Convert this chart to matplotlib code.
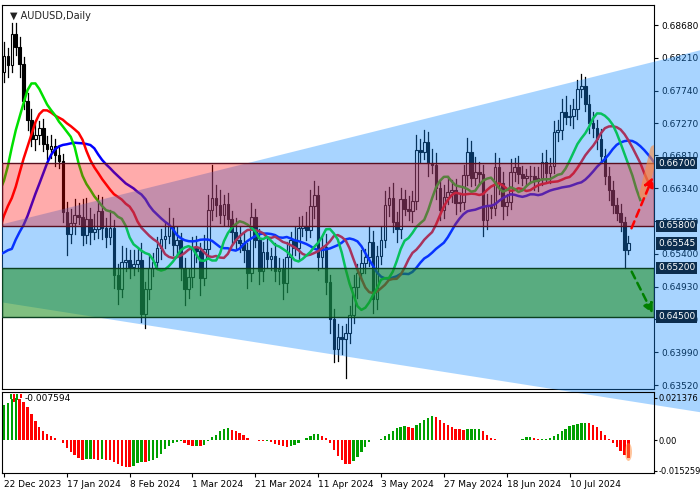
import numpy as np
import pandas as pd
import matplotlib
matplotlib.use("Agg")
import matplotlib.pyplot as plt
from matplotlib.patches import Rectangle, Polygon, Ellipse
import matplotlib.transforms as mtransforms

# ---------------- data ----------------
# closes before the visible window (only used to warm up indicators)
pre_close = [0.6340, 0.6335, 0.6325, 0.6310, 0.6330, 0.6345, 0.6350, 0.6400, 0.6510, 0.6450,
             0.6430, 0.6395, 0.6375, 0.6380, 0.6400, 0.6500, 0.6530, 0.6540, 0.6545, 0.6570,
             0.6565, 0.6580, 0.6590, 0.6610, 0.6635, 0.6660, 0.6650, 0.6665, 0.6625, 0.6585,
             0.6565, 0.6575, 0.6575, 0.6585, 0.6570, 0.6720, 0.6705, 0.6700, 0.6750, 0.6800]

close = [0.6823, 0.6810, 0.6855, 0.6837, 0.6812, 0.6759, 0.6732, 0.6705, 0.6710, 0.6720,
         0.6697, 0.6690, 0.6695, 0.6682, 0.6673, 0.6600, 0.6568, 0.6584, 0.6595, 0.6593,
         0.6567, 0.6590, 0.6572, 0.6575, 0.6601, 0.6577, 0.6564, 0.6577, 0.6509, 0.6490,
         0.6529, 0.6531, 0.6521, 0.6526, 0.6531, 0.6454, 0.6490, 0.6520, 0.6529, 0.6548,
         0.6561, 0.6565, 0.6580, 0.6552, 0.6560, 0.6520, 0.6489, 0.6507, 0.6548, 0.6544,
         0.6505, 0.6547, 0.6603, 0.6620, 0.6610, 0.6596, 0.6611, 0.6590, 0.6572, 0.6560,
         0.6556, 0.6545, 0.6513, 0.6593, 0.6560, 0.6515, 0.6543, 0.6533, 0.6537, 0.6515,
         0.6518, 0.6498, 0.6535, 0.6560, 0.6548, 0.6577, 0.6580, 0.6574, 0.6608, 0.6625,
         0.6535, 0.6550, 0.6499, 0.6447, 0.6403, 0.6421, 0.6418, 0.6426, 0.6453, 0.6493,
         0.6512, 0.6527, 0.6535, 0.6557, 0.6475, 0.6537, 0.6560, 0.6610, 0.6620, 0.6586,
         0.6575, 0.6619, 0.6605, 0.6602, 0.6616, 0.6689, 0.6686, 0.6700, 0.6670, 0.6668,
         0.6634, 0.6603, 0.6621, 0.6629, 0.6632, 0.6613, 0.6615, 0.6653, 0.6686, 0.6649,
         0.6657, 0.6655, 0.6588, 0.6608, 0.6606, 0.6664, 0.6642, 0.6608, 0.6614, 0.6658,
         0.6664, 0.6654, 0.6649, 0.6651, 0.6652, 0.6644, 0.6649, 0.6671, 0.6656, 0.6666,
         0.6714, 0.6718, 0.6744, 0.6736, 0.6737, 0.6748, 0.6777, 0.6780, 0.6755, 0.6727,
         0.6720, 0.6705, 0.6680, 0.6652, 0.6631, 0.6610, 0.6599, 0.6585, 0.6546, 0.6556]

# wick sizes in pips above max(open, close) and below min(open, close)
wick_up = [20, 12, 16, 16, 14, 10, 12, 15, 18, 10, 14, 12, 16, 10, 12, 10, 14, 20, 24, 18,
           26, 30, 16, 22, 24, 20, 14, 26, 12, 16, 22, 18, 14, 20, 16, 24, 10, 18, 12, 16,
           14, 20, 26, 12, 18, 10, 14, 12, 16, 18, 12, 20, 22, 48, 18, 22, 14, 16, 12, 20,
           18, 14, 10, 20, 12, 16, 14, 20, 12, 18, 16, 14, 22, 12, 18, 16, 14, 20, 24, 20,
           12, 16, 18, 10, 14, 18, 16, 14, 12, 16, 14, 18, 12, 22, 16, 14, 18, 20, 16, 22,
           14, 16, 12, 18, 14, 22, 16, 18, 14, 20, 16, 12, 18, 22, 14, 16, 12, 14, 20, 16,
           22, 14, 12, 18, 16, 20, 14, 16, 12, 18, 14, 16, 12, 10, 14, 12, 16, 14, 18, 12,
           16, 14, 18, 22, 16, 14, 12, 18, 14, 12, 16, 12, 14, 10, 12, 14, 10, 12, 8, 10]
wick_dn = [14, 16, 10, 12, 18, 12, 14, 10, 16, 12, 10, 14, 12, 16, 10, 14, 30, 12, 16, 10,
           14, 12, 18, 10, 12, 16, 14, 10, 18, 22, 12, 14, 16, 12, 10, 11, 20, 14, 12, 10,
           16, 12, 10, 14, 12, 18, 22, 12, 14, 16, 24, 10, 12, 14, 16, 12, 14, 10, 18, 12,
           14, 16, 22, 12, 10, 18, 14, 12, 16, 14, 18, 22, 12, 14, 10, 16, 12, 14, 10, 16,
           18, 14, 16, 20, 18, 16, 22, 56, 14, 12, 16, 10, 14, 12, 20, 14, 12, 10, 16, 14,
           18, 12, 10, 14, 16, 12, 14, 10, 18, 12, 16, 14, 12, 10, 14, 16, 12, 10, 14, 12,
           10, 16, 22, 12, 14, 10, 16, 18, 12, 10, 14, 12, 10, 12, 10, 12, 14, 10, 12, 14,
           10, 12, 14, 10, 12, 16, 14, 12, 10, 14, 12, 14, 10, 12, 14, 12, 10, 12, 26, 6]

date_labels = ["22 Dec 2023", "17 Jan 2024", "8 Feb 2024", "1 Mar 2024", "21 Mar 2024",
               "11 Apr 2024", "3 May 2024", "27 May 2024", "18 Jun 2024", "10 Jul 2024"]
label_step = 16

price_ticks = [0.68680, 0.68210, 0.67740, 0.67270, 0.66810, 0.66340, 0.65870,
               0.65400, 0.64930, 0.64460, 0.63990, 0.63520]
levels = {"resist_top": 0.6670, "resist_bot": 0.6580, "support_top": 0.6520, "support_bot": 0.6450}
boxed = [0.66700, 0.65800, 0.65545, 0.65200, 0.64500]
osc_ticks = [0.021376, 0.0, -0.015259]
ao_label = "-0.007594"
channel_upper = [(0, 0.6583), (166, 0.6816)]
channel_lower = [(0, 0.6470), (166, 0.6323)]

# ---------------- computations ----------------
n_pre = len(pre_close)
c = np.array(close)
o = np.concatenate([[pre_close[-1]], c[:-1]])
h = np.maximum(o, c) + np.array(wick_up) * 1e-4
l = np.minimum(o, c) - np.array(wick_dn) * 1e-4

med = pd.Series(np.concatenate([pre_close, (h + l) / 2]))
idx_all = np.arange(len(med)) - n_pre

def smma(s, n):
    return s.ewm(alpha=1.0 / n, adjust=False).mean()

jaw = smma(med, 13); teeth = smma(med, 8); lips = smma(med, 5)
ao = (med.rolling(5, min_periods=1).mean() - med.rolling(34, min_periods=1).mean()).values

# ---------------- figure ----------------
fig = plt.figure(figsize=(7, 5), dpi=100)
ax = fig.add_axes([2 / 700, 111 / 500, 652 / 700, 384 / 500])
axo = fig.add_axes([2 / 700, 27 / 500, 652 / 700, 81 / 500])
axo.set_facecolor("none")

x = np.arange(len(c))
xl = (-0.5, 165.5)

# candles
for i in x:
    ax.plot([i, i], [l[i], h[i]], color="black", lw=0.9, zorder=2)
    bull = c[i] >= o[i]
    lo_b = min(o[i], c[i]); hgt = max(abs(c[i] - o[i]), 0.00005)
    ax.add_patch(Rectangle((i - 0.33, lo_b), 0.66, hgt, facecolor="white" if bull else "black",
                           edgecolor="black", lw=0.8, zorder=3))

# alligator (shifted)
ax.plot(idx_all + 8, jaw.values, color="#0000ff", lw=1.8, zorder=4)
ax.plot(idx_all + 5, teeth.values, color="#ff0000", lw=1.8, zorder=4)
ax.plot(idx_all + 3, lips.values, color="#00e000", lw=1.8, zorder=4)

# channel (drawn beyond axes on the right)
xr = 178
def line_at(pts, xv):
    (x0, y0), (x1, y1) = pts
    return y0 + (y1 - y0) * (xv - x0) / (x1 - x0)
poly = [(-0.5, line_at(channel_upper, -0.5)), (xr, line_at(channel_upper, xr)),
        (xr, line_at(channel_lower, xr)), (-0.5, line_at(channel_lower, -0.5))]
ax.add_patch(Polygon(poly, closed=True, facecolor=(20 / 255, 140 / 255, 1.0), alpha=0.37,
                     edgecolor="none", zorder=5, clip_on=False))

# zones
ax.add_patch(Rectangle((xl[0], levels["resist_bot"]), xl[1] - xl[0],
                       levels["resist_top"] - levels["resist_bot"], facecolor=(1, 0, 0, 0.33),
                       edgecolor="#5a1020", lw=1.0, zorder=6))
ax.add_patch(Rectangle((xl[0], levels["support_bot"]), xl[1] - xl[0],
                       levels["support_top"] - levels["support_bot"],
                       facecolor=(24 / 255, 140 / 255, 24 / 255, 0.55),
                       edgecolor="#0b4020", lw=1.0, zorder=6))

# forecast arrows
ax.annotate("", xy=(165.5, 0.6654), xytext=(159.5, 0.6573),
            arrowprops=dict(arrowstyle="-|>", ls=(0, (3, 2)), color="red", lw=1.8,
                            mutation_scale=14), zorder=8)
ax.annotate("", xy=(165.5, 0.6451), xytext=(159.5, 0.6518),
            arrowprops=dict(arrowstyle="-|>", ls=(0, (3, 2)), color="green", lw=1.8,
                            mutation_scale=14), zorder=8)
ax.plot([162.8, 165.6], [0.6625, 0.6690], color="#ff8c3c", alpha=0.6, lw=6,
        solid_capstyle="round", zorder=7)

ax.set_xlim(*xl)
ax.set_ylim(0.63463, 0.68967)
ax.set_xticks([])
ax.yaxis.tick_right()
ax.set_yticks(price_ticks)
ax.set_yticklabels([f"{v:.5f}" for v in price_ticks])
ax.tick_params(axis="y", labelsize=6.5, length=3, pad=2)
ax.text(0.012, 0.985, "\u25BC AUDUSD,Daily", transform=ax.transAxes, fontsize=7,
        va="top", ha="left", color="#222222")
trans = mtransforms.blended_transform_factory(ax.transAxes, ax.transData)
for v in boxed:
    ax.text(1.006, v, f"{v:.5f}", transform=trans, fontsize=6.5, color="white", va="center",
            ha="left", zorder=10, clip_on=False,
            bbox=dict(boxstyle="square,pad=0.2", facecolor="#0c2d4e", edgecolor="none"))

# Awesome oscillator
vis = idx_all >= 0
aov = ao[vis]
prev = ao[np.where(vis)[0] - 1]
cols = ["#00a000" if a >= p else "#ff0000" for a, p in zip(aov, prev)]
axo.bar(x, aov, width=0.6, color=cols, zorder=2)
axo.add_patch(Ellipse((159, -0.0058), 1.8, 0.009, facecolor="#ff8c3c", alpha=0.5,
                      edgecolor="none", zorder=3))
axo.set_xlim(*xl)
axo.set_ylim(-0.0163, 0.0242)
axo.yaxis.tick_right()
axo.set_yticks(osc_ticks)
axo.set_yticklabels(["0.021376", "0.00", "-0.015259"])
axo.tick_params(axis="y", labelsize=6, length=2, pad=1)
axo.set_xticks(np.arange(len(date_labels)) * label_step)
axo.set_xticklabels(date_labels, ha="left")
axo.tick_params(axis="x", labelsize=6.5, length=3, pad=2)
axo.text(0.035, 0.97, ao_label, transform=axo.transAxes, fontsize=6.5, va="top", ha="left")
# small indicator icon
for k, (col, hh) in enumerate([("#00a000", 0.06), ("#ff0000", 0.09), ("#00a000", 0.07), ("#ff0000", 0.05)]):
    axo.add_patch(Rectangle((0.012 + k * 0.005, 0.97 - hh), 0.003, hh, transform=axo.transAxes,
                            facecolor=col, edgecolor="none", zorder=4))

fig.savefig("out.png", dpi=100)
